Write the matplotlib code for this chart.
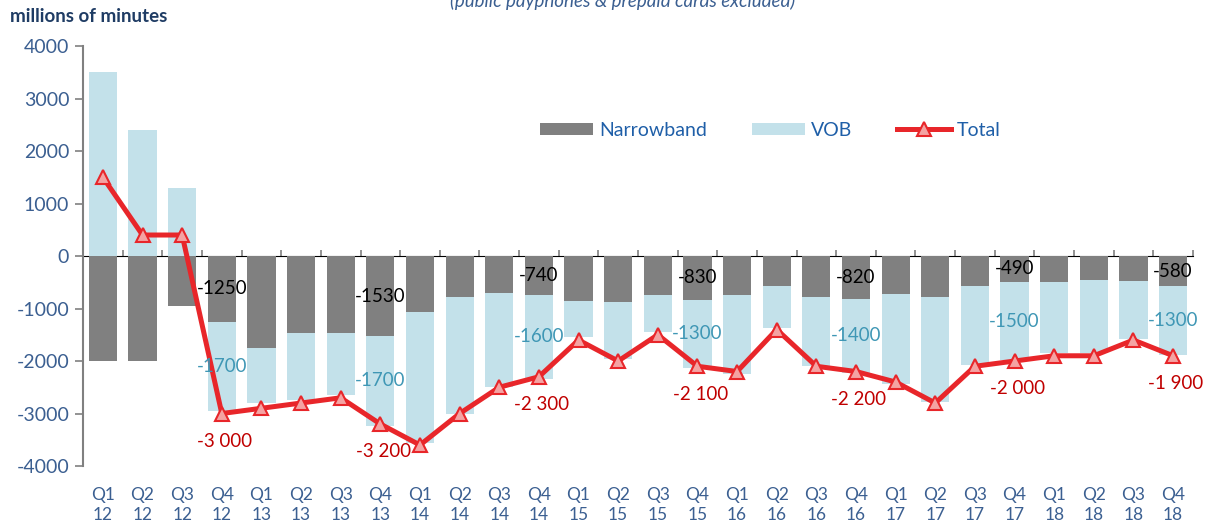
import numpy as np
import matplotlib
matplotlib.use("Agg")
import matplotlib.pyplot as plt

plt.rcParams['font.family'] = ['Lato', 'DejaVu Sans']
plt.rcParams['axes.unicode_minus'] = False

quarters = ['Q1', 'Q2', 'Q3', 'Q4'] * 7
years = [str(y) for y in range(12, 19) for _ in range(4)]
labels = [f"{q}\n{y}" for q, y in zip(quarters, years)]

narrowband = [-2000, -2000, -950, -1250, -1760, -1460, -1460, -1530,
              -1060, -790, -710, -740, -850, -870, -750, -830,
              -740, -570, -780, -820, -730, -780, -570, -490,
              -500, -460, -480, -580]
vob = [3500, 2400, 1300, -1700, -1040, -1280, -1190, -1700,
       -2500, -2210, -1790, -1600, -700, -1100, -700, -1300,
       -1500, -800, -1310, -1400, -1700, -2000, -1500, -1500,
       -1350, -1390, -1100, -1300]
total = [1500, 400, 400, -3000, -2900, -2800, -2700, -3200,
         -3600, -3000, -2500, -2300, -1600, -2000, -1500, -2100,
         -2200, -1400, -2100, -2200, -2400, -2800, -2100, -2000,
         -1900, -1900, -1600, -1900]
# every 4th quarter (Q4) carries the value labels
labelled = [3, 7, 11, 15, 19, 23, 27]

gray = '#808080'
light_blue = '#c3e1ea'
red = '#e8262a'
blue_txt = '#3b5f91'

fig = plt.figure(figsize=(12.09, 5.27), dpi=100)
ax = fig.add_axes([0.0687, 0.1157, 0.918, 0.797])

x = np.arange(len(labels))
nb = np.array(narrowband)
vb = np.array(vob)
vob_bottom = np.where(vb > 0, 0, nb)

b1 = ax.bar(x, nb, width=0.71, color=gray, label='Narrowband', zorder=2)
b2 = ax.bar(x, vb, bottom=vob_bottom, width=0.71, color=light_blue, label='VOB', zorder=2)
l1, = ax.plot(x, total, color=red, lw=3.6, marker='^', markersize=10,
              markerfacecolor='#f4a3a3', markeredgecolor=red, markeredgewidth=1.5,
              label='Total', zorder=4)

for i in labelled:
    ax.text(x[i], nb[i] / 2, f"{nb[i]}", ha='center', va='center',
            fontsize=13.5, color='black', zorder=5)
    ax.text(x[i], nb[i] + vb[i] / 2, f"{vb[i]}", ha='center', va='center',
            fontsize=13.5, color='#3f97b5', zorder=5)
    ax.annotate(f"{total[i]:,}".replace(',', ' '), (x[i], total[i]),
                xytext=(2, -20), textcoords='offset points', ha='center',
                va='center', fontsize=13.5, color='#c00000', zorder=5)

ax.set_xlim(-0.5, len(labels) - 0.5)
ax.set_ylim(-4000, 4000)
ax.set_yticks(range(-4000, 4001, 1000))
ax.tick_params(axis='y', colors=gray, labelcolor=blue_txt, labelsize=14,
               length=6, width=1.2, pad=4)
ax.set_xticks(x)
ax.set_xticklabels(labels, linespacing=1.35)
ax.tick_params(axis='x', length=0, labelcolor=blue_txt, labelsize=12.5, pad=15)

for s in ['top', 'right', 'bottom']:
    ax.spines[s].set_visible(False)
ax.spines['left'].set_color(gray)
ax.spines['left'].set_linewidth(1.5)

# zero line with category boundary ticks
zero = ax.secondary_xaxis(0.5)
zero.set_xticks(np.arange(-0.5, len(labels), 1.0))
zero.set_xticklabels([])
zero.tick_params(length=4, width=1.2, color=gray, direction='out')
zero.spines['bottom'].set_color(gray)
zero.spines['bottom'].set_linewidth(1.5)

fig.text(0.008, 0.958, 'millions of minutes', fontsize=13.5, fontweight='bold',
         color='#1f3c64')
fig.text(0.515, 1 - 7 / 527, '(public payphones & prepaid cards excluded)',
         fontsize=13.5, style='italic', color=blue_txt, ha='center', va='baseline')

fig.legend(handles=[b1, b2, l1], loc='center', bbox_to_anchor=(0.637, 0.753),
           ncol=3, frameon=False, fontsize=14, handlelength=2.75, handleheight=0.62,
           handletextpad=0.3, columnspacing=2.3, labelcolor='#1f5fa8')

fig.savefig('out.png', dpi=100)
